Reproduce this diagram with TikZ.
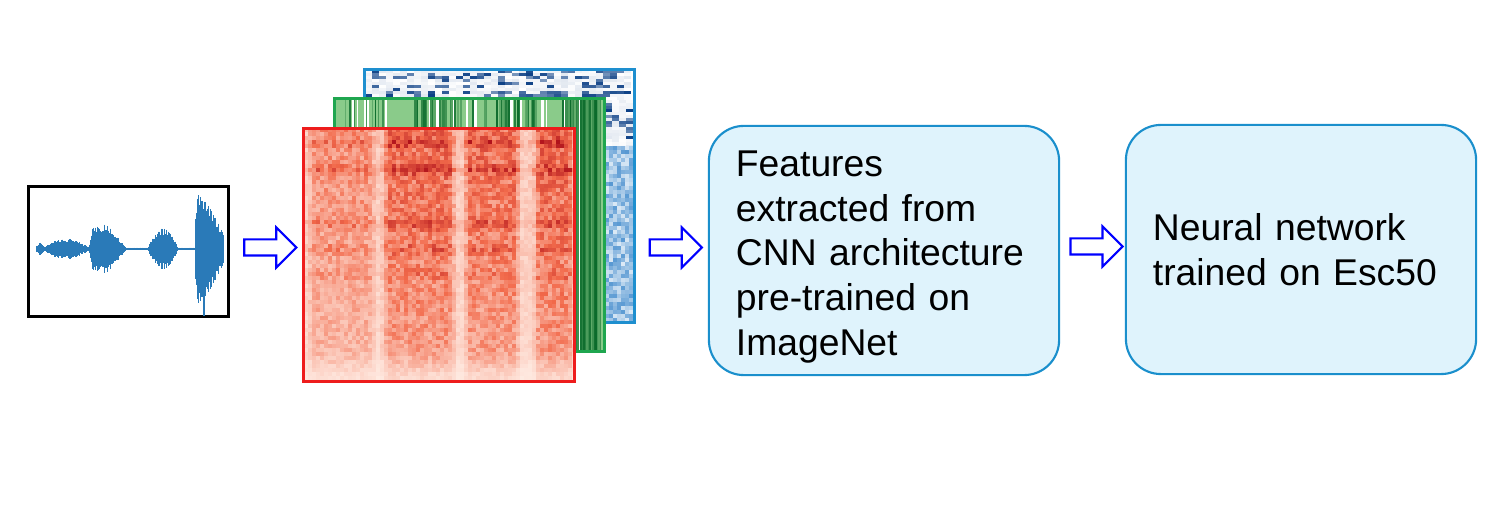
\documentclass[tikz,border=0pt]{standalone}
\usepackage{fontspec}
\setmainfont{Liberation Sans}
\usetikzlibrary{shapes.arrows, positioning, calc}
\definecolor{wavecol}{HTML}{2A7AB8}
\definecolor{arrowblue}{HTML}{0000FF}
\definecolor{boxline}{HTML}{1A8FCC}
\definecolor{boxfill}{HTML}{DFF3FC}
\definecolor{specblue}{HTML}{1E8FCF}
\definecolor{specgreen}{HTML}{1FA64F}
\definecolor{specred}{HTML}{EE1C1C}
\definecolor{redlight}{HTML}{FFEEE6}
\definecolor{redmid}{HTML}{F26A4B}
\definecolor{reddark}{HTML}{B0121B}
\definecolor{grnbase}{HTML}{8ACB8A}
\definecolor{grndark}{HTML}{0A6A2A}
\definecolor{navy}{HTML}{0B3F85}
\definecolor{bluemid}{HTML}{4F93D0}

\begin{document}
\begin{tikzpicture}[x=0.01cm, y=-0.01cm,
  wavebox/.style={draw=black, line width=1pt, minimum width=2cm, minimum height=1.3cm, inner sep=0pt, outer sep=0pt},
  specframe/.style={line width=0.85pt, minimum width=2.7cm, minimum height=2.53cm, inner sep=0pt, outer sep=0pt},
  procbox/.style={draw=boxline, fill=boxfill, line width=0.6pt, rounded corners=0.35cm,
    minimum width=3.5cm, minimum height=2.49cm, text width=2.96cm, inner xsep=0.27cm,
    align=left, outer sep=0pt, font=\fontsize{10.6}{12.75}\selectfont},
  hollowarrow/.style={single arrow, draw=arrowblue, fill=white, line width=0.6pt,
    minimum height=0.52cm, minimum width=0.38cm, single arrow head extend=0.12cm,
    inner sep=0.07cm, yshift=0.03cm}]

\pgfmathsetseed{7}
\useasboundingbox (0,0) rectangle (1500,531);

% =========== Waveform ===========
\node[wavebox] (wave) at (128.5,251.5) {};
\foreach \x in {37,37.6,...,224} {
  \pgfmathsetmacro\env{1.3
    + 5*max(0,1-abs(\x-40)/5)
    + 8*max(0,1-(abs(\x-66)/23)^2)
    + 22*min(1,max(0,(\x-89)/4))*max(0,min(1,(126-\x)/18))
    + 18*max(0,1-(abs(\x-163)/15)^2)
    + 56*min(1,max(0,(\x-195)/2))*max(0,min(1,(232-\x)/32))*(\x<225)}
  \pgfmathsetmacro\amp{\env*(0.72+0.35*rnd^2)}
  \draw[wavecol, line width=0.3pt] (\x,{249-\amp}) -- (\x,{249+\amp});
}
\draw[wavecol, line width=0.5pt] (204,249) -- (204,316);

% =========== Spectrograms ===========
% blue layer (back)
\begin{scope}
  \clip (364.5,69.5) rectangle (634.5,322.5);
  \fill[white] (364.5,69.5) rectangle (634.5,322.5);
  \foreach \y in {70,73,...,145} {
    \pgfmathtruncatemacro\xs{\y<99 ? 365 : 605}
    \pgfmathtruncatemacro\xn{\xs+7}
    \pgfmathsetmacro\rw{rnd}
    \foreach \x in {\xs,\xn,...,630} {
      \pgfmathsetmacro\vv{rnd<0.6*\rw ? 55+45*rnd : 12*rnd}
      \fill[navy!\vv!white] (\x,\y) rectangle ++(7.3,3.3);
    }
  }
  \foreach \y in {146,150,...,320} {
    \foreach \x in {605,609,...,633} {
      \pgfmathsetmacro\vv{20+75*rnd}
      \fill[bluemid!\vv!white] (\x,\y) rectangle ++(4.3,4.3);
    }
  }
\end{scope}
\node[specframe, draw=specblue] (specb) at (499.5,196) {};

% green layer (middle)
\begin{scope}
  \clip (334.5,98.5) rectangle (604.5,351.5);
  \fill[grnbase] (334.5,98.5) rectangle (604.5,351.5);
  \foreach \x in {335,336.5,...,604} {
    \pgfmathsetmacro\dd{0.06+0.3*(\x>340)*(\x<385)+0.6*(\x>413)*(\x<462)+0.5*(\x>495)*(\x<537)+0.8*(\x>560)}
    \pgfmathsetmacro\rr{rnd}
    \pgfmathsetmacro\sh{30+70*rnd}
    \ifdim\rr pt<\dd pt
      \draw[grndark!\sh!grnbase, line width=0.4pt] (\x,98.5) -- (\x,351.5);
    \else
      \ifdim\rr pt>0.88pt
        \draw[white, line width=0.4pt] (\x,98.5) -- (\x,351.5);
      \fi
    \fi
  }
\end{scope}
\node[specframe, draw=specgreen] (specg) at (469.5,225) {};

% red layer (front)
\begin{scope}
  \clip (304,128.5) rectangle (574,381.5);
  \fill[redlight] (304,128.5) rectangle (574,381.5);
  \foreach \x in {304,308,...,572} {
    \pgfmathsetmacro\tband{0.2
      + 0.30*max(0,min(1,(31-abs(\x-340))/8+0.5))
      + 0.52*max(0,min(1,(34-abs(\x-417))/8+0.5))
      + 0.50*max(0,min(1,(26-abs(\x-490))/8+0.5))
      + 0.55*max(0,min(1,(18-abs(\x-552))/6+0.5))}
    \foreach \y in {128,132,...,380} {
      \pgfmathsetmacro\fband{(0.72-0.0013*(\y-130)
        + 0.36*max(0,1-abs(\y-141)/7)
        + 0.36*max(0,1-abs(\y-168)/7)
        + 0.30*max(0,1-abs(\y-222)/8)
        + 0.24*max(0,1-abs(\y-247)/7)
        + 0.15*max(0,1-abs(\y-273)/7))
        * max(0.3,min(1,(384-\y)/35))}
      \pgfmathsetmacro\vv{min(100,100*\tband*\fband*(0.6+0.8*rnd))}
      \ifdim\vv pt<50pt
        \pgfmathsetmacro\cc{2*\vv}
        \fill[redmid!\cc!redlight] (\x,\y) rectangle ++(4.3,4.3);
      \else
        \pgfmathsetmacro\cc{2*\vv-100}
        \fill[reddark!\cc!redmid] (\x,\y) rectangle ++(4.3,4.3);
      \fi
    }
  }
\end{scope}
\node[specframe, draw=specred] (specr) at (439,255) {};

% =========== Processing boxes ===========
\node[procbox] (feat) at (884,250.5) {\rule{0pt}{11pt}Features\\extracted from\\CNN architecture\\pre-trained on\\ImageNet};
\node[procbox] (nn) at (1301,249.5) {Neural network\\trained on Esc50};

% Arrows between stages
\coordinate (m1) at ($(wave.east)!0.5!(specr.west)$);
\coordinate (m2) at ($(specb.east)!0.5!(feat.west)$);
\coordinate (m3) at ($(feat.east)!0.5!(nn.west)$);
\node[hollowarrow] (a1) at (m1 |- feat) {};
\node[hollowarrow] (a2) at (m2 |- feat) {};
\node[hollowarrow] (a3) at (m3 |- nn) {};

\end{tikzpicture}
\end{document}
